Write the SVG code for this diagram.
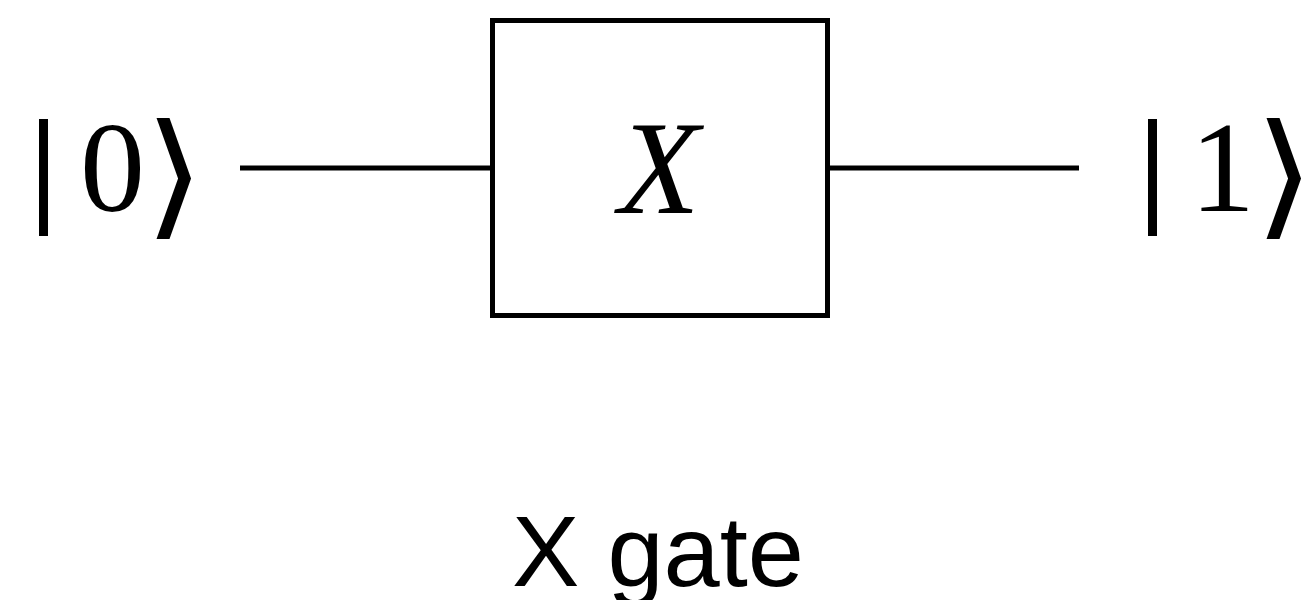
<svg xmlns="http://www.w3.org/2000/svg" width="1306" height="600" viewBox="0 0 1306 600">
  <style>
    .ket { font-family: "Liberation Serif", "DejaVu Serif", serif; font-size: 130px; fill: #000; }
    .angle { font-family: "DejaVu Serif", serif; font-size: 136px; fill: #000; }
    .gate-sym { font-family: "Liberation Serif", serif; font-style: italic; font-size: 133px; fill: #000; }
    .caption { font-family: "Liberation Sans", Arial, sans-serif; font-size: 101px; fill: #000; }
    .wire { stroke: #000; stroke-width: 5; fill: none; }
    .box { stroke: #000; stroke-width: 5; fill: #fff; }
  </style>
  <rect width="1306" height="600" fill="#fff"/>

  <!-- quantum wires -->
  <g id="wires">
    <line class="wire" x1="240" y1="168" x2="492" y2="168"/>
    <line class="wire" x1="828" y1="168" x2="1079" y2="168"/>
  </g>

  <!-- input state -->
  <g id="ket-in">
    <rect x="39" y="119" width="9" height="117" fill="#000"/>
    <text class="ket" x="80" y="211">0</text>
    <text class="angle" transform="translate(144,221) scale(1.15,1)">⟩</text>
  </g>

  <!-- X gate -->
  <g id="x-gate">
    <rect class="box" x="492.5" y="20.5" width="335" height="295"/>
    <text class="gate-sym" x="659" y="213" text-anchor="middle">X</text>
  </g>

  <!-- output state -->
  <g id="ket-out">
    <rect x="1148" y="119" width="9" height="117" fill="#000"/>
    <text class="ket" x="1190" y="211">1</text>
    <text class="angle" transform="translate(1254,221) scale(1.15,1)">⟩</text>
  </g>

  <text class="caption" x="658" y="586" text-anchor="middle">X gate</text>
</svg>
